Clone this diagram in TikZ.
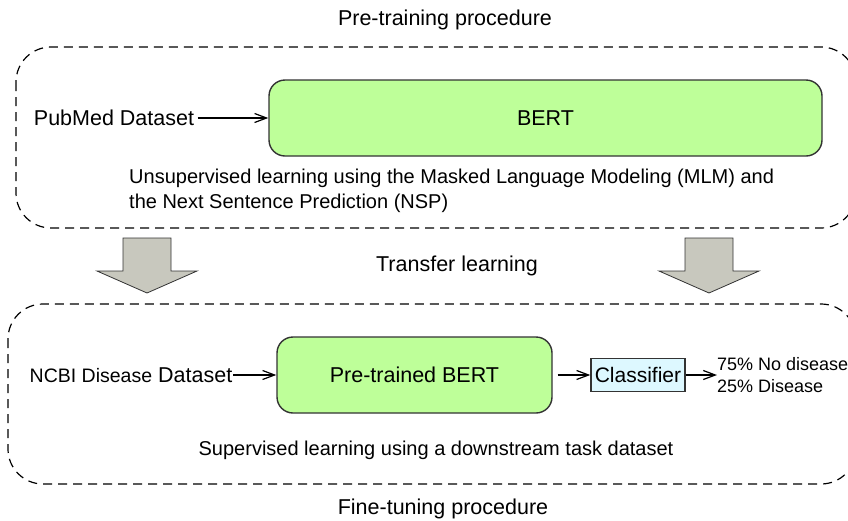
\documentclass[tikz,border=0pt]{standalone}
\usepackage{fontspec}
\setmainfont{Liberation Sans}
\usetikzlibrary{positioning,arrows.meta}
\definecolor{bertgreen}{RGB}{190,255,153}
\definecolor{clscyan}{RGB}{221,248,255}
\definecolor{arrowgray}{RGB}{200,200,190}

\begin{document}
\begin{tikzpicture}[x=1pt,y=-1pt,auto,>={Straight Barb[length=12pt,width=9pt]},font=\fontsize{21.5}{25}\selectfont]

\tikzstyle{model}=[draw=black!80,line width=1.4pt,fill=bertgreen,rounded corners=16pt,inner sep=0pt]
\tikzstyle{phase}=[draw=black,line width=1.2pt,dash pattern=on 9pt off 6pt,rounded corners=35pt]
\tikzstyle{bigarrow}=[draw=black!80,line width=0.8pt,fill=arrowgray]
\tikzstyle{flow}=[->,line width=1.2pt]
\tikzstyle{note}=[font=\fontsize{20}{25}\selectfont]

\useasboundingbox (0,0) rectangle (848,520);

    % pre-training phase
    \draw[phase] (16,47) rectangle (856,228);
    \node (pretitle) at (445,20) {Pre-training procedure};
    \node[model,minimum width=553pt,minimum height=76pt] (bert) at (545.5,118) {BERT};
    \node (pubmed) at (114,118) {PubMed Dataset};
    \node[note,align=left,anchor=north west,inner sep=0pt] (mlm) at (129,169)
        {Unsupervised learning using the Masked Language Modeling (MLM) and\\the Next Sentence Prediction (NSP)};

    % transfer
    \foreach \cx in {147,709}
        \draw[bigarrow] (\cx-24,238) -- (\cx+24,238) -- (\cx+24,271) -- (\cx+50,271)
            -- (\cx,293) -- (\cx-50,271) -- (\cx-24,271) -- cycle;
    \node (transfer) at (457,266) {Transfer learning};

    % fine-tuning phase
    \draw[phase] (8,304) rectangle (856,484);
    \node[model,minimum width=275pt,minimum height=76pt] (ptbert) at (414.5,375) {Pre-trained BERT};
    \node[inner sep=1pt] (ncbi) at (131,375) {{\fontsize{19.5}{25}\selectfont NCBI Disease} Dataset};
    \node[draw=black!80,line width=1.4pt,fill=clscyan,minimum width=94pt,minimum height=33pt,inner sep=0pt,
        font=\fontsize{21}{25}\selectfont] (cls) at (638,375) {Classifier};
    \node[align=left,anchor=west,inner sep=0pt,font=\fontsize{18}{22}\selectfont] (out) at (717,375)
        {75\% No disease\\25\% Disease};
    \node[note] (supervised) at (436,450) {Supervised learning using a downstream task dataset};
    \node (finetitle) at (443,509) {Fine-tuning procedure};

\path
    (pubmed) edge[flow] (bert)
    (ncbi) edge[flow] (ptbert)
    (ptbert) edge[flow, shorten <=5pt] (cls)
    (cls) edge[flow] (out);
\end{tikzpicture}
\end{document}
